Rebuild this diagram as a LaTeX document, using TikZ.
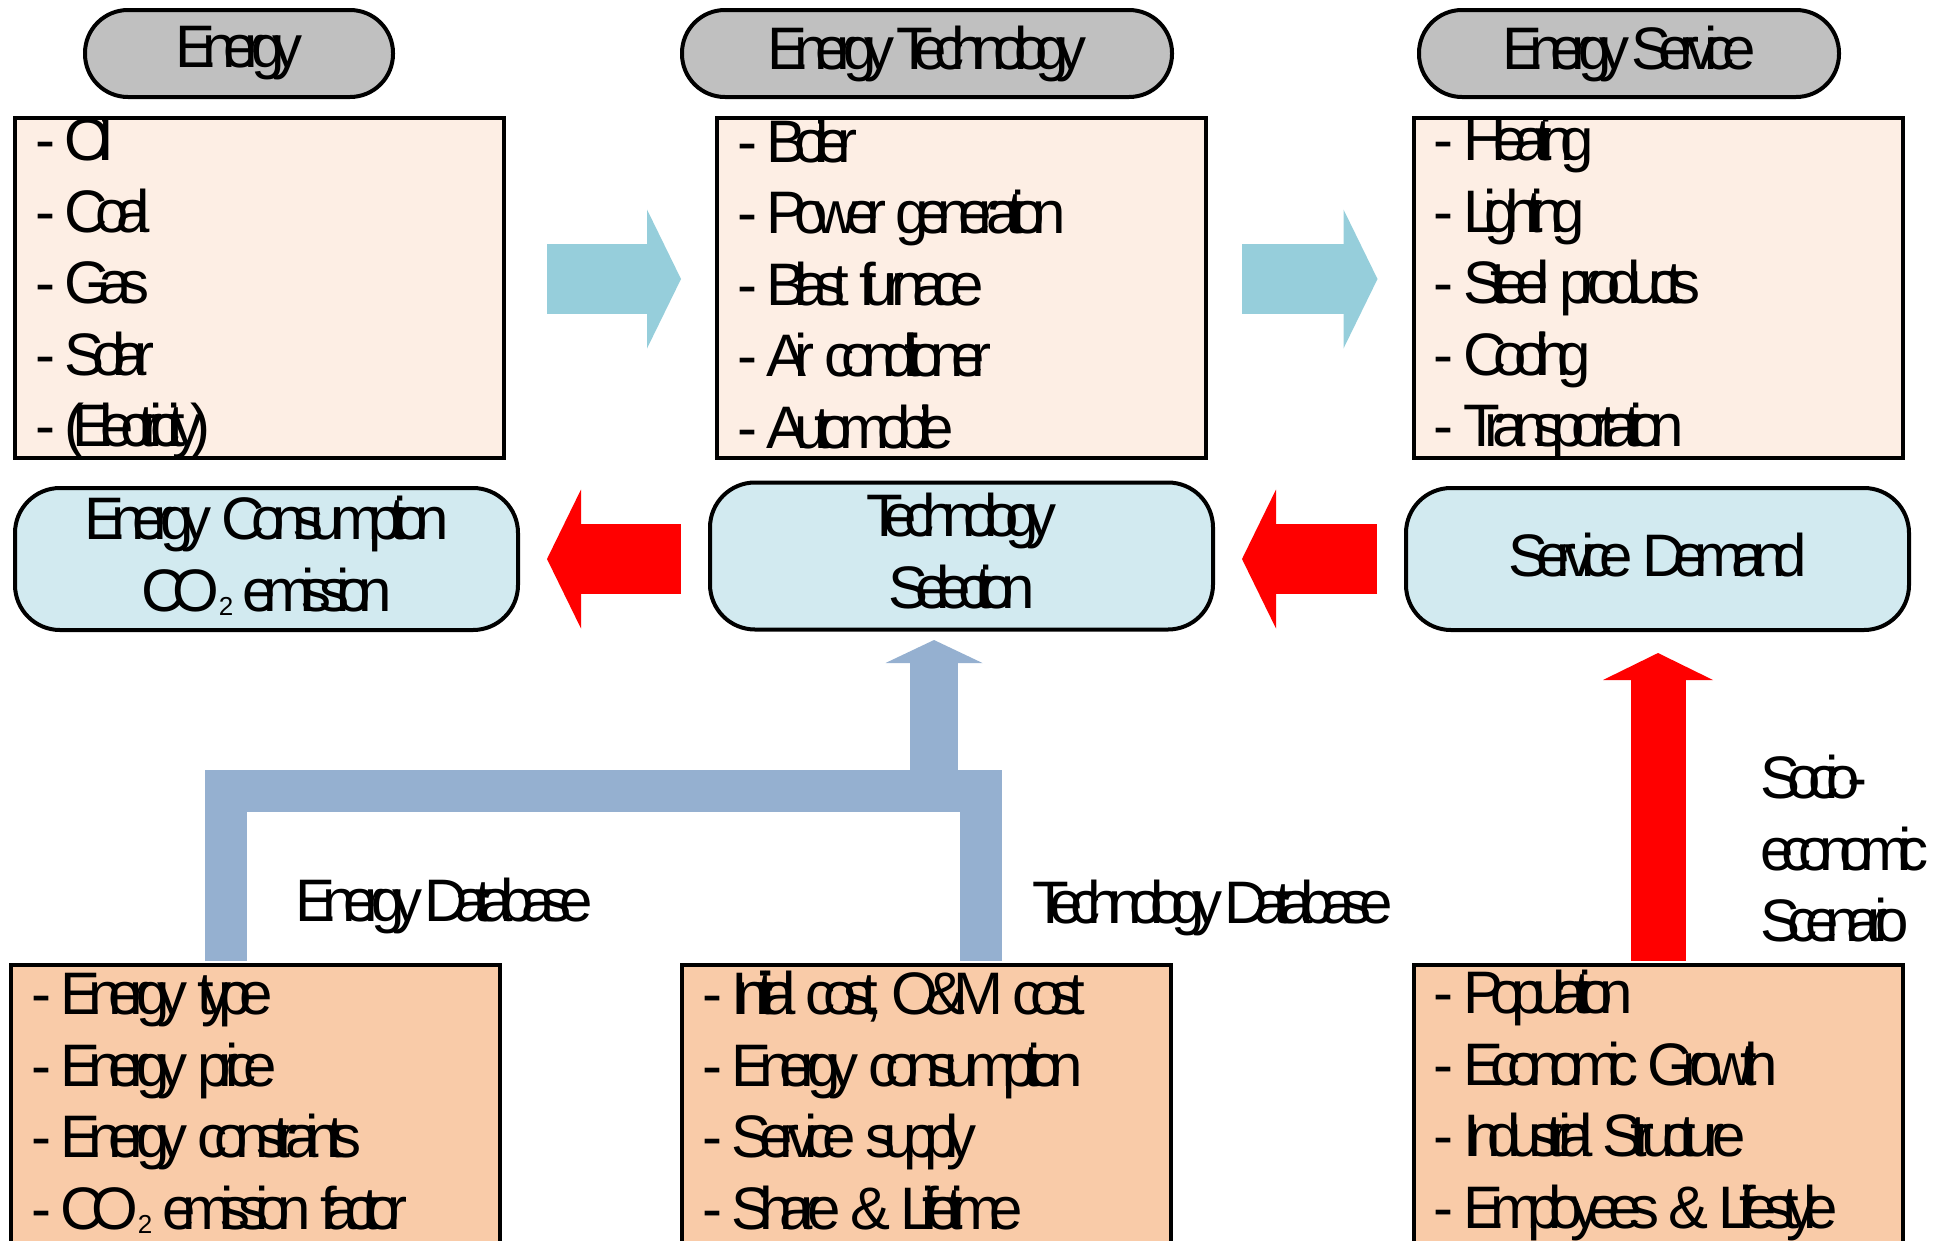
\documentclass[tikz,border=0pt]{standalone}
\usepackage{fontspec}
\setmainfont{Liberation Sans}[LetterSpace=-21, WordSpace=0.45]
\usetikzlibrary{arrows.meta,calc}
\definecolor{pillgrey}{HTML}{C0C0C0}
\definecolor{listfill}{HTML}{FDEEE4}
\definecolor{datafill}{HTML}{F9CBA8}
\definecolor{selfill}{HTML}{D2EAF0}
\definecolor{flowblue}{HTML}{96CEDB}
\definecolor{dbblue}{HTML}{95B0D0}
\newcommand{\linestrut}{\spaceskip=.16em\xspaceskip=.16em\rule[-10pt]{0pt}{54pt}}
\newcommand{\cotwo}{CO\raisebox{-4pt}{\fontsize{26}{26}\selectfont 2}}
\tikzset{
        headpill/.style={draw, line width=4pt, fill=pillgrey, rounded corners=43pt, minimum height=87pt, inner ysep=0pt},
        selpill/.style={draw, line width=4pt, fill=selfill, rounded corners=45pt, minimum width=503pt, minimum height=142pt, inner ysep=0pt, align=center, execute at begin node=\linestrut, execute at end node=\linestrut},
        listbox/.style={draw, line width=4pt, fill=listfill, minimum height=340pt, text width=449pt, inner xsep=20pt, inner ysep=-5pt, align=flush left, execute at begin node=\linestrut, execute at end node=\linestrut},
        databox/.style={listbox, fill=datafill, minimum height=280pt, anchor=north},
        flowarr/.style={flowblue, line width=70pt, -{Triangle[length=34pt, width=139pt, line width=0pt]}},
        backarr/.style={flowarr, red},
        uparr/.style={red, line width=55pt, -{Triangle[length=27pt, width=110pt, line width=0pt]}},
        dbline/.style={dbblue, line width=42pt, line join=miter},
        dbarrow/.style={dbblue, line width=48pt, -{Triangle[length=23pt, width=97pt, line width=0pt]}},
        dblabel/.style={inner sep=0pt}
}
\begin{document}
\begin{tikzpicture}[x=1pt, y=-1pt, font=\fontsize{60}{71.5}\selectfont]
        \useasboundingbox (0,0) rectangle (1943,1240);
        % headers
        \node[headpill, minimum width=308pt] (ehead) at (239,53.5) {Energy};
        \node[headpill, minimum width=490pt] (thead) at (927,53.5) {Energy Technology};
        \node[headpill, minimum width=420pt] (shead) at (1629,53.5) {Energy Service};
        % lists
        \node[listbox] (elist) at (259.5,288) {- Oil\\- Coal\\- Gas\\- Solar\\- (Electricity)};
        \node[listbox] (tlist) at (961.5,288) {- Boiler\\- Power generation\\- Blast furnace\\- Air conditioner\\- Automobile};
        \node[listbox] (slist) at (1658,288) {- Heating\\- Lighting\\- Steel products\\- Cooling\\- Transportation};
        % model steps
        \node[selpill] (cons) at (266.5,559) {Energy Consumption\\\cotwo{} emission};
        \node[selpill, minimum height=147pt] (tsel) at (961.5,556) {Technology\\Selection};
        \node[selpill] (sdem) at (1657.5,559) {Service Demand};
        % databases
        \node[databox] (edb) at (255.5,963) {- Energy type\\- Energy price\\- Energy constraints\\- \cotwo{} emission factor};
        \node[databox] (tdb) at (926.5,963) {- Initial cost, O\&M cost\\- Energy consumption\\- Service supply\\- Share \& Lifetime};
        \node[databox] (soc) at (1658,963) {- Population\\- Economic Growth\\- Industrial Structure\\- Employees \& Lifestyle};
        \node[dblabel, anchor=base west] (edblabel) at (295,921) {Energy Database};
        \node[dblabel, anchor=base west] (tdblabel) at (1032,923) {Technology Database};
        \node[dblabel, anchor=north west, align=left, execute at begin node=\linestrut] (soclabel) at (1760,755) {Socio-\\economic\\Scenario};
        % arrows
        \draw[flowarr, shorten <=41pt, shorten >=34pt] ([yshift=9pt]elist.east) -- ([yshift=9pt]tlist.west);
        \draw[flowarr, shorten <=34pt, shorten >=34pt] ([yshift=9pt]tlist.east) -- ([yshift=9pt]slist.west);
        \draw[backarr, shorten <=27pt, shorten >=27pt] (cons.east -| tsel.west) -- (cons.east);
        \draw[backarr, shorten <=27pt, shorten >=27pt] (sdem.west) -- (sdem.west -| tsel.east);
        \draw[uparr, shorten <=2pt, shorten >=21pt] (soc.north) -- (soc.north |- sdem.south);
        \draw[dbline, shorten <=2pt, shorten >=2pt] ([xshift=217pt]edb.north west) -- ++(0,-172) -| ([xshift=301pt]tdb.north west);
        \coordinate (dbjoin) at (934,791);
        \draw[dbarrow, shorten >=8.5pt] (dbjoin) -- (dbjoin |- tsel.south);
\end{tikzpicture}
\end{document}
